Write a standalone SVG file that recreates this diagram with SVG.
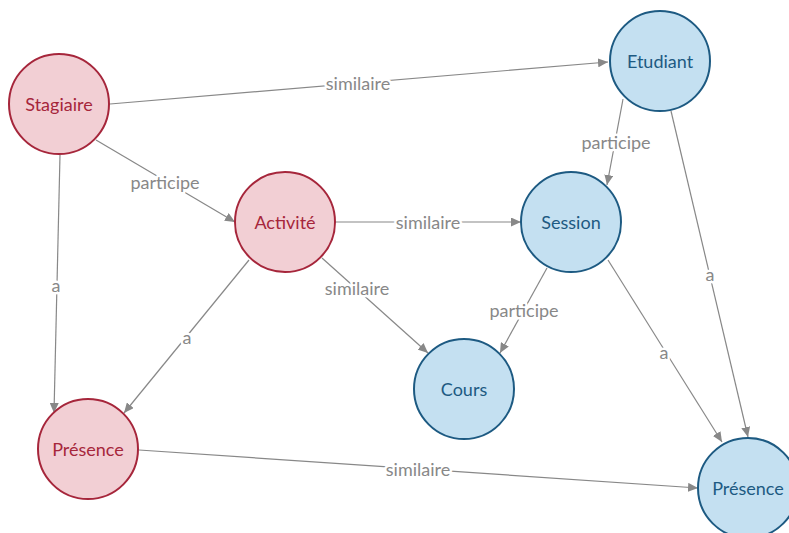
<svg xmlns="http://www.w3.org/2000/svg" width="789" height="533" viewBox="0 0 789 533">
<style>
.bg{fill:#ffffff}
.red circle{fill:#f2cfd4;stroke:#a6263b;stroke-width:2}
.red text{fill:#a6263b}
.blue circle{fill:#c4e0f1;stroke:#1d5a82;stroke-width:2}
.blue text{fill:#1d5a82}
.node text{font-family:Lato,"Open Sans","Liberation Sans",sans-serif;font-size:18px;text-anchor:middle;dominant-baseline:central}
.edge line{stroke:#888888;stroke-width:1.2;fill:none;marker-end:url(#arr)}
.edge text{font-family:Lato,"Open Sans","Liberation Sans",sans-serif;font-size:18px;fill:#888888;text-anchor:middle;dominant-baseline:central;stroke:#ffffff;stroke-width:5;paint-order:stroke;stroke-linejoin:round}
</style>
<defs>
<marker id="arr" markerUnits="userSpaceOnUse" markerWidth="11" markerHeight="9" refX="10" refY="4.5" orient="auto">
<path d="M0,0 L10,4.5 L0,9 z" fill="#888888"/>
</marker>
</defs>
<rect class="bg" x="0" y="0" width="789" height="533"/>
<g id="connectors">
<g class="edge" id="e1"><line x1="110" y1="104" x2="608" y2="62"/><text x="358" y="83">similaire</text></g>
<g class="edge" id="e2"><line x1="96" y1="140" x2="235" y2="222"/><text x="165" y="182">participe</text></g>
<g class="edge" id="e3"><line x1="60" y1="155" x2="54" y2="413"/><text x="56" y="285">a</text></g>
<g class="edge" id="e4"><line x1="249" y1="260" x2="124" y2="413"/><text x="187" y="337">a</text></g>
<g class="edge" id="e5"><line x1="335" y1="222" x2="521" y2="222"/><text x="428" y="222">similaire</text></g>
<g class="edge" id="e6"><line x1="322" y1="258" x2="428" y2="353"/><text x="357" y="288">similaire</text></g>
<g class="edge" id="e7"><line x1="623" y1="99" x2="607" y2="185"/><text x="616" y="142">participe</text></g>
<g class="edge" id="e8"><line x1="671" y1="111" x2="748" y2="437"/><text x="710" y="274">a</text></g>
<g class="edge" id="e9"><line x1="547" y1="268" x2="500" y2="353"/><text x="524" y="310">participe</text></g>
<g class="edge" id="e10"><line x1="608" y1="260" x2="722" y2="442"/><text x="664" y="352">a</text></g>
<g class="edge" id="e11"><line x1="139" y1="450" x2="698" y2="488"/><text x="418" y="469">similaire</text></g>
</g>
<g id="stagiaire" class="node red"><circle cx="59" cy="104" r="50"/><text x="59" y="104">Stagiaire</text></g>
<g id="activite" class="node red"><circle cx="285" cy="222" r="50"/><text x="285" y="222">Activité</text></g>
<g id="presence-red" class="node red"><circle cx="88" cy="449" r="50"/><text x="88" y="449">Présence</text></g>
<g id="etudiant" class="node blue"><circle cx="660" cy="61" r="50"/><text x="660" y="61">Etudiant</text></g>
<g id="session" class="node blue"><circle cx="571" cy="222" r="50"/><text x="571" y="222">Session</text></g>
<g id="cours" class="node blue"><circle cx="464" cy="389" r="50"/><text x="464" y="389">Cours</text></g>
<g id="presence-blue" class="node blue"><circle cx="748" cy="488" r="50"/><text x="748" y="488">Présence</text></g>
</svg>
